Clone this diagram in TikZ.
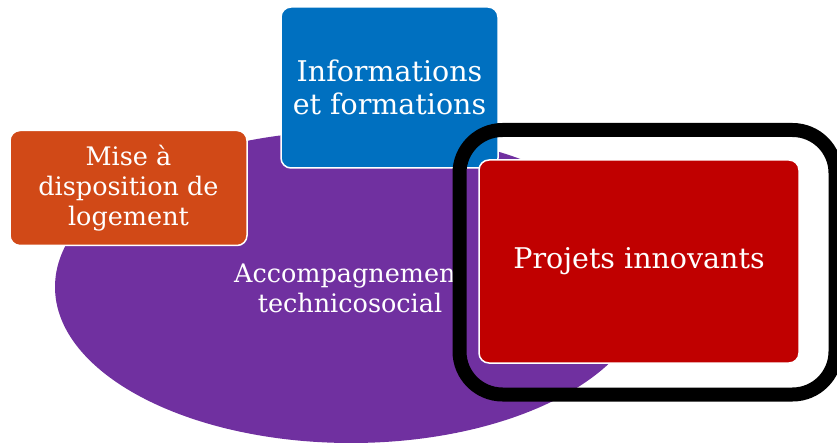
\documentclass[tikz,border=0pt]{standalone}
\usepackage{fontspec}
\setmainfont{DejaVu Serif}
\definecolor{cpurple}{RGB}{112,48,160}
\definecolor{corange}{RGB}{209,73,23}
\definecolor{cblue}{RGB}{0,112,192}
\definecolor{cred}{RGB}{192,0,0}
\begin{document}
\begin{tikzpicture}[x=1pt,y=-1pt,
  box/.style={rectangle, rounded corners=10pt, draw=white, line width=1.5pt, text=white, align=center, inner sep=0pt},
  lbl/.style={text=white, align=center, inner sep=0pt},
  frame/.style={rectangle, rounded corners=43pt, draw=black, line width=14pt, inner sep=0pt}]
\useasboundingbox (0,0) rectangle (837,443);
\fill[cpurple] (351,287) ellipse [x radius=296pt, y radius=156pt];
\node[lbl, font=\fontsize{25.5}{30}\selectfont] (acc) at (350,288) {Accompagnement\\technicosocial};
\node[box, fill=corange, minimum width=237pt, minimum height=115pt, font=\fontsize{25.5}{30}\selectfont] (mise) at (128.5,188) {\raisebox{-1.5pt}{Mise à}\\\raisebox{-1.5pt}{disposition de}\\\raisebox{-1.5pt}{logement}};
\node[box, fill=cblue, minimum width=217pt, minimum height=161pt, font=\fontsize{28.5}{33}\selectfont] (info) at (389.5,87.5) {Informations\\et formations};
\node[box, fill=cred, minimum width=320pt, minimum height=203pt, font=\fontsize{28.5}{33}\selectfont] (proj) at (639,261.5) {\raisebox{-3pt}{Projets innovants}};
\node[frame, minimum width=376pt, minimum height=264.5pt] (hl) at (647.5,262.25) {};
\end{tikzpicture}
\end{document}
